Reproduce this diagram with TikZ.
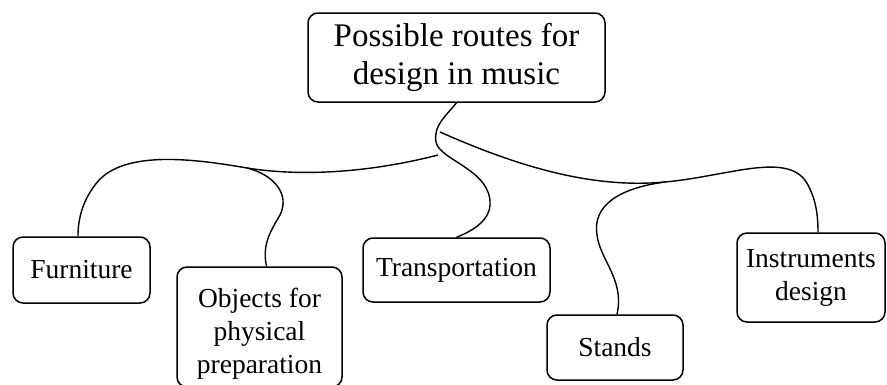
\documentclass[tikz,border=0pt]{standalone}
\usepackage{fontspec}
\setmainfont{Liberation Serif}
\begin{document}
\begin{tikzpicture}[x=1pt,y=-1pt,
  box/.style={draw, line width=1.5pt, rounded corners=10pt, align=center, inner sep=0pt,
    font=\fontsize{27.5}{33}\selectfont},
  link/.style={line width=1.4pt}]
\useasboundingbox (0,0) rectangle (887,384);
\node[box, minimum width=297pt, minimum height=89pt, font=\fontsize{33}{38}\selectfont] (top) at (456.5,57.5) {Possible routes for\\design in music};
\node[box, minimum width=137pt, minimum height=66pt] (furn) at (81.5,270) {Furniture};
\node[box, minimum width=165pt, minimum height=120pt] (obj) at (259.5,327) {\rule{0pt}{32pt}Objects for\\physical\\preparation};
\node[box, minimum width=187pt, minimum height=64pt] (trans) at (456.5,270) {Transportation};
\node[box, minimum width=136pt, minimum height=65pt] (stands) at (615,347.5) {Stands};
\node[box, minimum width=148pt, minimum height=89pt] (inst) at (811,277.5) {Instruments\\design};
\coordinate (jr) at (440,132);
\coordinate (jl) at (438,155);
\coordinate (jo) at (247,168);
\coordinate (js) at (665,182);
% main stem to Transportation
\draw[link] (top.south) .. controls (447,115) and (433,125) .. (436,142)
  .. controls (439,160) and (492,170) .. (490,205)
  .. controls (489,222) and (470,232) .. (trans.north);
% right branch to Instruments
\draw[link] (jr) .. controls (530,172) and (600,188) .. (js)
  .. controls (730,176) and (790,150) .. (808,185)
  .. controls (816,200) and (818,215) .. ([xshift=7pt]inst.north);
% stands branch
\draw[link] (js) .. controls (620,188) and (592,205) .. (597,235)
  .. controls (600,260) and (625,280) .. ([xshift=2pt]stands.north);
% left branch to Furniture
\draw[link] (jl) .. controls (380,170) and (310,178) .. (jo)
  .. controls (190,158) and (120,150) .. (95,185)
  .. controls (82,202) and (78,220) .. ([xshift=-3.5pt]furn.north);
% objects branch
\draw[link] (jo) .. controls (275,175) and (290,195) .. (280,215)
  .. controls (270,232) and (262,245) .. ([xshift=7pt]obj.north);
\end{tikzpicture}
\end{document}
